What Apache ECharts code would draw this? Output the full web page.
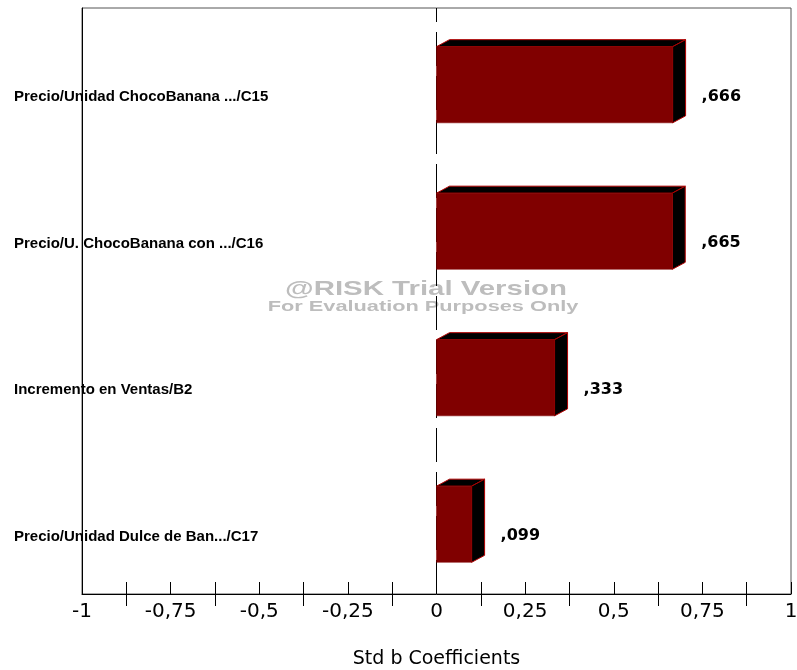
<!DOCTYPE html>
<html>
<head>
<meta charset="utf-8">
<script src="https://cdn.jsdelivr.net/npm/echarts@6/dist/echarts.min.js"></script>
<style>html,body{margin:0;padding:0;background:#fff}#c{width:797px;height:670px}</style>
</head>
<body>
<div id="c"></div>
<script>
var categories = ['Precio/Unidad ChocoBanana .../C15', 'Precio/U. ChocoBanana con .../C16', 'Incremento en Ventas/B2', 'Precio/Unidad Dulce de Ban.../C17'];
var coefficients = [0.666, 0.665, 0.333, 0.099];
var majorTicks = [-1, -0.75, -0.5, -0.25, 0, 0.25, 0.5, 0.75, 1];
var minorTicks = [-0.875, -0.625, -0.375, -0.125, 0.125, 0.375, 0.625, 0.875];
var axisTitle = 'Std b Coefficients';
var watermark1 = '@RISK Trial Version';
var watermark2 = 'For Evaluation Purposes Only';

var FONT = '"Liberation Sans", Arial, sans-serif';
var WIDE = '"DejaVu Sans", "Liberation Sans", Arial, sans-serif';
function fmtTick(v) { return String(v).replace('.', ','); }
function fmtVal(v) { return v.toFixed(3).replace(/^0\./, ',').replace(/^-0\./, '-,'); }

var chart = echarts.init(document.getElementById('c'), null, {renderer: 'canvas'});
var DX = 13, DY = 7;
chart.setOption({
  animation: false,
  backgroundColor: '#fff',
  textStyle: {fontFamily: FONT},
  grid: {left: 82, right: 6, top: 8, bottom: 76, show: true, borderColor: '#555', borderWidth: 1, containLabel: false, outerBoundsMode: 'none'},
  xAxis: [{
    type: 'value', min: -1, max: 1, interval: 0.25, position: 'bottom',
    axisLine: {show: true, onZero: false, lineStyle: {color: '#000', width: 1}},
    axisTick: {show: true, inside: true, length: 12, lineStyle: {color: '#000'}, customValues: majorTicks},
    axisLabel: {show: true, margin: 8, fontSize: 20, color: '#000', fontFamily: WIDE, customValues: majorTicks, formatter: fmtTick},
    splitLine: {show: false},
    name: axisTitle, nameLocation: 'middle', nameGap: 56,
    nameTextStyle: {fontSize: 19, color: '#000', fontFamily: WIDE}
  }, {
    type: 'value', min: -1, max: 1, position: 'bottom', offset: 12,
    axisLine: {show: false, onZero: false},
    axisTick: {show: true, inside: true, length: 24, lineStyle: {color: '#000'}, customValues: minorTicks},
    axisLabel: {show: false},
    splitLine: {show: false}
  }],
  yAxis: [{
    type: 'category', data: categories, inverse: true, position: 'left',
    axisLine: {show: true, onZero: false, lineStyle: {color: '#000'}},
    axisTick: {show: false},
    splitLine: {show: false},
    axisLabel: {align: 'left', verticalAlign: 'top', lineHeight: 32, margin: 68, fontSize: 15, fontWeight: 'bold', color: '#000', fontFamily: FONT}
  }, {
    type: 'value', min: 0, max: 1, show: false, position: 'right',
    axisLine: {show: false, onZero: false}
  }],
  series: [{
    type: 'line',
    xAxisIndex: 0, yAxisIndex: 1,
    data: [[0, 0], [0, 1]],
    symbol: 'none', silent: true,
    lineStyle: {color: '#000', width: 1, type: [34, 10]},
    z: 3
  }, {
    type: 'custom',
    xAxisIndex: 0, yAxisIndex: 0,
    data: coefficients.map(function (v, i) { return [v, i]; }),
    encode: {x: 0, y: 1},
    renderItem: function (params, api) {
      var v = api.value(0), idx = api.value(1);
      var p0 = api.coord([0, idx]);
      var p1 = api.coord([v, idx]);
      var band = api.size([0, 1])[1];
      var h = band * 0.52;
      var cy = p0[1] + DY / 2;
      var x0 = p0[0], x1 = p1[0], yt = cy - h / 2, yb = cy + h / 2;
      var edge = '#b00000';
      return {
        type: 'group',
        children: [
          {type: 'polygon', shape: {points: [[x0, yt], [x0 + DX, yt - DY], [x1 + DX, yt - DY], [x1, yt]]}, style: {fill: '#000', stroke: edge, lineWidth: 1}},
          {type: 'polygon', shape: {points: [[x1, yt], [x1 + DX, yt - DY], [x1 + DX, yb - DY], [x1, yb]]}, style: {fill: '#000', stroke: edge, lineWidth: 1}},
          {type: 'rect', shape: {x: x0, y: yt, width: x1 - x0, height: h}, style: {fill: '#800000', stroke: '#800000', lineWidth: 0.5}},
          {type: 'text', x: x1 + DX + 16, y: p0[1] + 15.5, style: {text: fmtVal(v), fill: '#000', font: 'bold 16px ' + WIDE, textAlign: 'left', textVerticalAlign: 'middle'}}
        ]
      };
    },
    z: 4
  }],
  graphic: [
    {type: 'text', x: 426, y: 289, scaleX: 1.4, z: 1, style: {text: watermark1, fill: '#bdbdbd', font: 'bold 21px ' + FONT, textAlign: 'center', textVerticalAlign: 'middle'}},
    {type: 'text', x: 423, y: 307, scaleX: 1.45, z: 1, style: {text: watermark2, fill: '#bdbdbd', font: 'bold 15px ' + FONT, textAlign: 'center', textVerticalAlign: 'middle'}}
  ]
});
</script>
</body>
</html>
